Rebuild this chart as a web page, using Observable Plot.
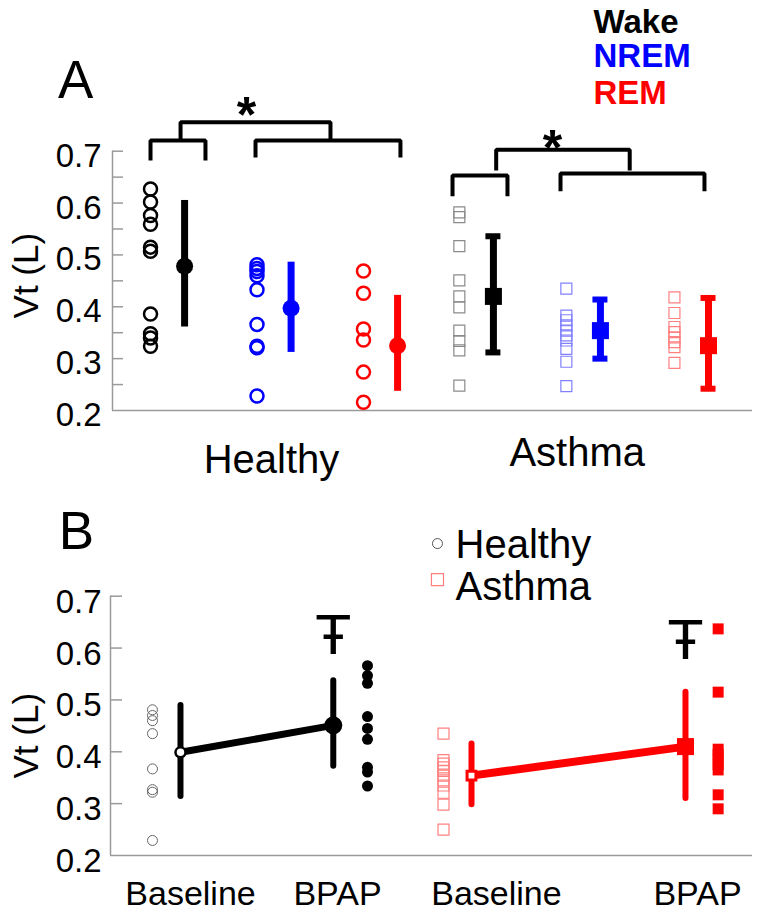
<!DOCTYPE html>
<html>
<head>
<meta charset="utf-8">
<script src="https://cdn.jsdelivr.net/npm/d3@7"></script>
<script src="https://cdn.jsdelivr.net/npm/@observablehq/plot@0.6"></script>
<style>
  body { margin: 0; background: #fff; }
  svg { display: block; }
</style>
</head>
<body>
<div id="chart"></div>
<script>
// ================= DATA =================
const stages = ["Wake", "NREM", "REM"];
const stageColor = ["#000000", "#0000ff", "#ff0000"];
const stageColorLight = ["#8a8a8a", "#8080ff", "#ff8080"];

// Panel A – Healthy (circles)
const healthyWake = [0.627, 0.602, 0.576, 0.559, 0.515, 0.507, 0.386, 0.348, 0.340, 0.324];
const healthyNREM = [0.481, 0.474, 0.468, 0.460, 0.433, 0.366, 0.324, 0.321, 0.228];
const healthyREM  = [0.469, 0.426, 0.357, 0.336, 0.274, 0.216];
const healthyMean = [0.478, 0.397, 0.325];
const healthyLow  = [0.361, 0.312, 0.237];
const healthyHigh = [0.605, 0.486, 0.422];

// Panel A – Asthma (squares)
const asthmaWake = [0.582, 0.573, 0.517, 0.451, 0.420, 0.399, 0.354, 0.334, 0.316, 0.248];
const asthmaNREM = [0.435, 0.383, 0.374, 0.364, 0.354, 0.345, 0.335, 0.319, 0.294, 0.247];
const asthmaREM  = [0.418, 0.388, 0.361, 0.351, 0.341, 0.332, 0.322, 0.292];
const asthmaMean = [0.420, 0.354, 0.325];
const asthmaLow  = [0.312, 0.300, 0.242];
const asthmaHigh = [0.536, 0.414, 0.417];

// Panel B – Baseline vs BPAP
const conditions = ["Baseline", "BPAP"];
const healthyBaseline = [0.481, 0.470, 0.460, 0.435, 0.367, 0.327, 0.322, 0.229];
const healthyBPAP     = [0.566, 0.547, 0.532, 0.468, 0.445, 0.424, 0.370, 0.361, 0.334];
const healthyBMean = [0.399, 0.451];
const healthyBLow  = [0.314, 0.372];
const healthyBHigh = [0.489, 0.537];

const asthmaBaseline = [0.435, 0.384, 0.377, 0.370, 0.363, 0.354, 0.345, 0.335, 0.321, 0.298, 0.250];
const asthmaBPAP     = [0.637, 0.515, 0.405, 0.395, 0.385, 0.375, 0.365, 0.317, 0.290];
const asthmaBMean = [0.354, 0.410];
const asthmaBLow  = [0.298, 0.310];
const asthmaBHigh = [0.415, 0.515];

const yTickValues = [0.2, 0.3, 0.4, 0.5, 0.6, 0.7];
const yTickLabels = ["0.2", "0.3", "0.4", "0.5", "0.6", "0.7"];
const yMinorTicksA = [0.25, 0.3, 0.35, 0.4, 0.45, 0.5, 0.55, 0.6, 0.65, 0.7];
const groupLabels = ["Healthy", "Asthma"];

// ================= LAYOUT =================
const FONT = "'Liberation Sans', Arial, Helvetica, sans-serif";
const W = 762;

// Panel A x layout (slot units)
const xDomA = [0.643, 6.653];
const slotA = {Healthy: [1, 2, 3], Asthma: [3.9, 4.905, 5.92]};
const meanShiftA = 0.32;
const unitA = 640 / (xDomA[1] - xDomA[0]);

function buildA(group, arrays, mean, lo, hi) {
  const pts = [], means = [], caps = [];
  arrays.forEach((arr, i) => arr.forEach(v => pts.push({group, i, x: slotA[group][i], v})));
  stages.forEach((s, i) => {
    const m = {group, i, x: slotA[group][i] + meanShiftA, v: mean[i], lo: lo[i], hi: hi[i]};
    means.push(m);
    caps.push({...m, v: lo[i]}, {...m, v: hi[i]});
  });
  return {pts, means, caps};
}
const HA = buildA("Healthy", [healthyWake, healthyNREM, healthyREM], healthyMean, healthyLow, healthyHigh);
const AA = buildA("Asthma", [asthmaWake, asthmaNREM, asthmaREM], asthmaMean, asthmaLow, asthmaHigh);

// significance brackets (annotation geometry, data units)
const bracketsA = [
  {x1: 1.0,   x2: 1.516, top: 0.7205, leg: 0.682},
  {x1: 1.986, x2: 3.347, top: 0.7205, leg: 0.688},
  {x1: 1.282, x2: 2.69,  top: 0.756,  leg: 0.7205},
  {x1: 3.836, x2: 4.352, top: 0.653,  leg: 0.613},
  {x1: 4.85,  x2: 6.202, top: 0.657,  leg: 0.623},
  {x1: 4.246, x2: 5.50,  top: 0.7026, leg: 0.6627}
];
const bracketPts = bracketsA.flatMap((b, id) => [
  {id, x: b.x1, y: b.leg}, {id, x: b.x1, y: b.top}, {id, x: b.x2, y: b.top}, {id, x: b.x2, y: b.leg}
]);
const starsA = [{x: 1.901, y: 0.792}, {x: 4.775, y: 0.7302}];

const panelA = Plot.plot({
  width: W, height: 490,
  marginLeft: 112, marginRight: 10, marginTop: 150.7, marginBottom: 80,
  x: {domain: xDomA, axis: null},
  y: {domain: [0.2, 0.7], axis: null},
  color: {type: "identity"},
  style: {fontFamily: FONT, background: "white", overflow: "visible"},
  marks: [
    // axes
    Plot.ruleX([xDomA[0]], {y1: 0.2, y2: 0.7, stroke: "#9a9a9a", strokeWidth: 1.5}),
    Plot.ruleY([0.2], {x1: xDomA[0], x2: xDomA[1], stroke: "#9a9a9a", strokeWidth: 1.5}),
    Plot.ruleY(yMinorTicksA, {y: d => d, x1: xDomA[0], x2: xDomA[0] + 11 / unitA, stroke: "#9a9a9a", strokeWidth: 1.5}),
    Plot.text(yTickValues, {x: xDomA[0], y: d => d, text: (d, i) => yTickLabels[i], textAnchor: "end", dx: -11, dy: 5, fontSize: 33, fill: "black"}),
    Plot.text(["Vt (L)"], {x: -0.164, y: 0.46, rotate: -90, fontSize: 35, fill: "black"}),
    // Healthy
    Plot.dot(HA.pts, {x: "x", y: "v", r: 6.5, stroke: d => stageColor[d.i], strokeWidth: 2.5, fill: "none"}),
    Plot.ruleX(HA.means, {x: "x", y1: "lo", y2: "hi", stroke: d => stageColor[d.i], strokeWidth: 7}),
    Plot.dot(HA.means, {x: "x", y: "v", r: 8.5, fill: d => stageColor[d.i], stroke: "none"}),
    // Asthma
    Plot.dot(AA.pts, {x: "x", y: "v", symbol: "square", r: 6.2, stroke: d => stageColorLight[d.i], strokeWidth: 1.2, fill: "none"}),
    Plot.ruleX(AA.means, {x: "x", y1: "lo", y2: "hi", stroke: d => stageColor[d.i], strokeWidth: 7}),
    Plot.ruleY(AA.caps, {y: "v", x1: d => d.x - 7.5 / unitA, x2: d => d.x + 7.5 / unitA, stroke: d => stageColor[d.i], strokeWidth: 6}),
    Plot.dot(AA.means, {x: "x", y: "v", symbol: "square", r: 9.6, fill: d => stageColor[d.i], stroke: "none"}),
    // brackets + stars
    Plot.line(bracketPts, {x: "x", y: "y", z: "id", stroke: "black", strokeWidth: 4, strokeLinejoin: "miter", strokeLinecap: "butt"}),
    Plot.text(starsA, {x: "x", y: "y", text: () => "*", fontSize: 50, fontWeight: "bold", dy: 13, fill: "black"}),
    // group labels
    Plot.text(groupLabels, {x: (d, i) => [2.136, 5.007][i], y: (d, i) => [0.105, 0.117][i], text: d => d, fontSize: 40, fill: "black"}),
    // panel letter and stage legend
    Plot.text(["A"], {x: 0.296, y: 0.835, text: d => d, fontSize: 53, fill: "black"}),
    Plot.text(stages, {x: 5.16, y: (d, i) => [0.949, 0.882, 0.811][i], text: d => d, textAnchor: "start", fontSize: 33, fontWeight: "bold", fill: (d, i) => stageColor[i]})
  ]
});

// ================= PANEL B =================
const xDomB = [0, 10];
const unitB = 642 / (xDomB[1] - xDomB[0]);
const posB = {
  Healthy: {mean: [1.09, 3.47], pts: [0.654, 4.003]},
  Asthma:  {mean: [5.623, 8.956], pts: [5.187, 9.465]}
};
function buildB(group, arrays, mean, lo, hi) {
  const pts = [], means = [];
  arrays.forEach((arr, i) => arr.forEach(v => pts.push({group, i, x: posB[group].pts[i], v})));
  conditions.forEach((c, i) => means.push({group, i, cond: c, x: posB[group].mean[i], v: mean[i], lo: lo[i], hi: hi[i]}));
  return {pts, means};
}
const HB = buildB("Healthy", [healthyBaseline, healthyBPAP], healthyBMean, healthyBLow, healthyBHigh);
const AB = buildB("Asthma", [asthmaBaseline, asthmaBPAP], asthmaBMean, asthmaBLow, asthmaBHigh);
const condLabelX = [1.246, 3.536, 6.012, 9.143];
const condLabels = [...conditions, ...conditions];

const panelB = Plot.plot({
  width: W, height: 426,
  marginLeft: 110, marginRight: 10, marginTop: 105.7, marginBottom: 61,
  x: {domain: xDomB, axis: null},
  y: {domain: [0.2, 0.7], axis: null},
  color: {type: "identity"},
  style: {fontFamily: FONT, background: "white", overflow: "visible"},
  marks: [
    Plot.ruleX([xDomB[0]], {y1: 0.2, y2: 0.7, stroke: "#9a9a9a", strokeWidth: 1.5}),
    Plot.ruleY([0.2], {x1: xDomB[0], x2: xDomB[1], stroke: "#9a9a9a", strokeWidth: 1.5}),
    Plot.ruleY(yTickValues.slice(1), {y: d => d, x1: xDomB[0], x2: xDomB[0] + 12 / unitB, stroke: "#9a9a9a", strokeWidth: 1.5}),
    Plot.text(yTickValues, {x: xDomB[0], y: d => d, text: (d, i) => yTickLabels[i], textAnchor: "end", dx: -9, dy: 6, fontSize: 33, fill: "black"}),
    Plot.text(["Vt (L)"], {x: -1.308, y: 0.431, rotate: -90, fontSize: 35, fill: "black"}),
    Plot.text(condLabels, {x: (d, i) => condLabelX[i], y: 0.1248, text: d => d, fontSize: 34, fill: "black"}),
    Plot.text(["B"], {x: -0.53, y: 0.823, text: d => d, fontSize: 53, fill: "black"}),
    // Healthy
    Plot.dot(HB.pts.filter(d => d.i === 0), {x: "x", y: "v", r: 5, stroke: "#666", strokeWidth: 1, fill: "none"}),
    Plot.dot(HB.pts.filter(d => d.i === 1), {x: "x", y: "v", r: 5.5, fill: "black", stroke: "none"}),
    Plot.ruleX(HB.means, {x: "x", y1: "lo", y2: "hi", stroke: "black", strokeWidth: 6, strokeLinecap: "round"}),
    Plot.line(HB.means, {x: "x", y: "v", stroke: "black", strokeWidth: 7}),
    Plot.dot(HB.means.filter(d => d.i === 0), {x: "x", y: "v", r: 5, fill: "white", stroke: "black", strokeWidth: 2.5}),
    Plot.dot(HB.means.filter(d => d.i === 1), {x: "x", y: "v", r: 9, fill: "black", stroke: "none"}),
    // Asthma
    Plot.dot(AB.pts.filter(d => d.i === 0), {x: "x", y: "v", symbol: "square", r: 6.2, stroke: "#ff8080", strokeWidth: 1.2, fill: "none"}),
    Plot.dot(AB.pts.filter(d => d.i === 1), {x: "x", y: "v", symbol: "square", r: 6.2, fill: "#ff0000", stroke: "none"}),
    Plot.ruleX(AB.means, {x: "x", y1: "lo", y2: "hi", stroke: "#ff0000", strokeWidth: 6, strokeLinecap: "round"}),
    Plot.line(AB.means, {x: "x", y: "v", stroke: "#ff0000", strokeWidth: 8}),
    Plot.dot(AB.means.filter(d => d.i === 0), {x: "x", y: "v", symbol: "square", r: 5, fill: "white", stroke: "#ff0000", strokeWidth: 3}),
    Plot.dot(AB.means.filter(d => d.i === 1), {x: "x", y: "v", symbol: "square", r: 9.6, fill: "#ff0000", stroke: "none"}),
    // significance marks
    Plot.text([HB.means[1], AB.means[1]], {x: "x", y: (d, i) => [0.621, 0.6126][i], text: () => "Ŧ", fontFamily: "DejaVu Sans", fontSize: 54, fill: "black"}),
    // legend
    Plot.dot(["Healthy"], {x: 5.093, y: 0.8015, r: 5, stroke: "#555", strokeWidth: 1, fill: "none"}),
    Plot.dot(["Asthma"], {x: 5.093, y: 0.732, symbol: "square", r: 6.8, stroke: "#ff8080", strokeWidth: 1.2, fill: "none"}),
    Plot.text(groupLabels, {x: 5.374, y: (d, i) => [0.799, 0.718][i], text: d => d, textAnchor: "start", fontSize: 40, fill: "black"})
  ]
});

const chart = document.getElementById("chart");
chart.appendChild(panelA);
chart.appendChild(panelB);
</script>
</body>
</html>
